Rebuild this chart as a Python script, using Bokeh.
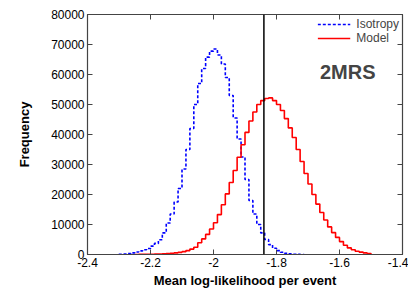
import numpy as np
from bokeh.plotting import figure
from bokeh.models import (Span, Label, Legend, LegendItem, FixedTicker,
                          CustomJSTickFormatter, LinearAxis)
from bokeh.embed import file_html
from bokeh.resources import INLINE

# ---- data ----
bin_width = 0.0125
iso_start = -2.3
iso_counts = [80, 150, 300, 550, 850, 1200, 1600, 2000, 2800, 3700,
              4900, 7200, 10500, 13500, 17500, 22000, 28500, 35000, 42000, 50000,
              57000, 62000, 65800, 67800, 68500, 66500, 63500, 59000, 53000, 45500,
              38500, 32500, 25000, 18000, 13500, 10000, 7200, 5000, 3300, 2100,
              1300, 750, 400, 200, 100, 50, 20]
model_start = -2.25
model_counts = [20, 30, 50, 70, 100, 140, 190, 250, 320, 420,
                550, 720, 950, 1300, 1800, 2400, 3900, 5200, 6700, 8500,
                10600, 13300, 16600, 20200, 24000, 28000, 32400, 36600, 40700, 44500,
                47500, 50000, 51300, 52000, 52200, 51300, 50000, 48000, 45300, 42200,
                39000, 35000, 31000, 27000, 23500, 20000, 16800, 14000, 11500, 9200,
                7300, 5700, 4300, 3100, 2200, 1600, 1100, 800, 550, 350]
observed_value = -1.84
label_text = "2MRS"
x_ticks = [-2.4, -2.2, -2.0, -1.8, -1.6, -1.4]
y_ticks = [0, 10000, 20000, 30000, 40000, 50000, 60000, 70000, 80000]


def step_xy(start, counts):
    edges = start + bin_width * np.arange(len(counts) + 1)
    xs = np.concatenate([[edges[0]], edges])
    ys = np.concatenate([[0], counts, [0]])
    return xs, ys


FONT = "Liberation Sans"

p = figure(width=408, height=290, x_range=(-2.4, -1.4), y_range=(0, 80000),
           output_backend="svg", toolbar_location=None,
           min_border_left=87, min_border_right=6, min_border_top=14,
           min_border_bottom=30)
p.xgrid.visible = False
p.ygrid.visible = False
p.outline_line_color = "#444444"
p.outline_line_width = 1.2
p.background_fill_color = "white"
p.border_fill_color = "white"

ix, iy = step_xy(iso_start, iso_counts)
mx, my = step_xy(model_start, model_counts)
r_iso = p.step(ix, iy, mode="after", line_color="#0000ff", line_width=1.6,
               line_dash="3 2")
r_mod = p.step(mx, my, mode="after", line_color="#ff0000", line_width=1.6)

p.add_layout(Span(location=observed_value, dimension="height",
                  line_color="black", line_width=1.5))

xfmt = CustomJSTickFormatter(code="return String(Math.round(tick*10)/10);")
for ax in p.xaxis:
    ax.ticker = FixedTicker(ticks=x_ticks)
    ax.formatter = xfmt
for ax in p.yaxis:
    ax.ticker = FixedTicker(ticks=y_ticks)

for ax in list(p.xaxis) + list(p.yaxis):
    ax.major_tick_in = 5
    ax.major_tick_out = 0
    ax.minor_tick_line_color = None
    ax.axis_line_color = "#444444"
    ax.major_tick_line_color = "#444444"
    ax.major_label_text_font = FONT
    ax.major_label_text_font_size = "12px"
    ax.major_label_text_color = "black"
    ax.major_label_standoff = 3
    ax.axis_label_text_font = FONT
    ax.axis_label_text_font_size = "13px"
    ax.axis_label_text_font_style = "bold"
    ax.axis_label_text_color = "black"
    ax.axis_label_standoff = 3

p.xaxis.axis_label = "Mean log-likelihood per event"
p.yaxis.axis_label = "Frequency"
p.yaxis.axis_label_standoff = 16

blank = CustomJSTickFormatter(code="return '';")
top = LinearAxis(ticker=FixedTicker(ticks=x_ticks), formatter=blank,
                 major_tick_in=5, major_tick_out=0, minor_tick_line_color=None,
                 major_label_text_font_size="0px", axis_line_color="#444444",
                 major_tick_line_color="#444444", major_label_standoff=0)
right = LinearAxis(ticker=FixedTicker(ticks=y_ticks), formatter=blank,
                   major_tick_in=5, major_tick_out=0, minor_tick_line_color=None,
                   major_label_text_font_size="0px", axis_line_color="#444444",
                   major_tick_line_color="#444444", major_label_standoff=0)
p.add_layout(top, "above")
p.add_layout(right, "right")

legend = Legend(items=[LegendItem(label="Isotropy", renderers=[r_iso]),
                       LegendItem(label="Model", renderers=[r_mod])],
                location="top_right")
legend.label_text_font = FONT
legend.label_text_font_size = "12px"
legend.glyph_width = 33
legend.glyph_height = 10
legend.label_height = 10
legend.spacing = -2
legend.padding = 2
legend.margin = 3
legend.border_line_color = None
legend.background_fill_alpha = 0
legend.label_standoff = 6
p.add_layout(legend)

p.add_layout(Label(x=-1.662, y=61000, text=label_text, text_font=FONT,
                   text_font_size="20px", text_font_style="bold",
                   text_baseline="middle", text_align="left"))

open("out.html", "w").write(file_html(p, INLINE))
